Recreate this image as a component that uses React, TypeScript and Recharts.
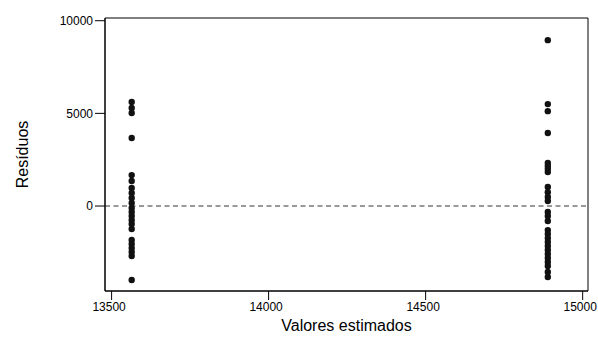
import React from "react";
import {
  ScatterChart,
  Scatter,
  XAxis,
  YAxis,
  ReferenceLine,
  ReferenceArea,
} from "recharts";

// fitted value of each group
const fittedLow = 13564;
const fittedHigh = 14889;

// residuals
const residualsLow = [
  5610, 5290, 5020, 3670, 1670, 1350, 970, 700, 430, 160, -110, -320, -540,
  -760, -970, -1240, -1830, -2050, -2270, -2480, -2700, -3990,
];
const residualsHigh = [
  8950, 5500, 5120, 3940, 2320, 2160, 2000, 1830, 1030, 750, 490, 270, -320,
  -540, -810, -1300, -1510, -1730, -1940, -2160, -2370, -2590, -2800, -3020,
  -3240, -3560, -3830,
];

const xTicks = [13500, 14000, 14500, 15000];
const yTicks = [0, 5000, 10000];

const xDomain: [number, number] = [13479, 15017];
const yDomain: [number, number] = [-4585, 10146];

const data = [
  ...residualsLow.map((r) => ({ x: fittedLow, y: r })),
  ...residualsHigh.map((r) => ({ x: fittedHigh, y: r })),
];

const font = "'Liberation Sans', Arial, sans-serif";

const Dot = (props: any) => (
  <circle cx={props.cx} cy={props.cy} r={3.2} fill="#111" />
);

export default function App() {
  return (
    <div style={{ position: "absolute", left: 0, top: 0, background: "#fff" }}>
      <ScatterChart
        width={598}
        height={338}
        margin={{ top: 18, right: 10, bottom: 7, left: 45 }}
      >
        <XAxis
          type="number"
          dataKey="x"
          domain={xDomain}
          ticks={xTicks}
          allowDataOverflow
          height={40}
          tickSize={9}
          stroke="#000"
          tickLine={{ stroke: "#000" }}
          tick={{ fontSize: 12, fill: "#000", fontFamily: font, dx: -2.5 }}
          label={{
            value: "Valores estimados",
            position: "insideBottom",
            offset: 0,
            style: { fontSize: 16, fill: "#000", fontFamily: font },
          }}
        />
        <YAxis
          type="number"
          dataKey="y"
          domain={yDomain}
          ticks={yTicks}
          allowDataOverflow
          width={60}
          tickSize={10}
          stroke="#000"
          tickLine={{ stroke: "#000" }}
          tick={{ fontSize: 12, fill: "#000", fontFamily: font }}
          label={{
            value: "Resíduos",
            angle: -90,
            position: "insideLeft",
            offset: -23,
            style: {
              fontSize: 16,
              fill: "#000",
              fontFamily: font,
              textAnchor: "middle",
            },
          }}
        />
        <ReferenceArea
          x1={xDomain[0]}
          x2={xDomain[1]}
          y1={yDomain[0]}
          y2={yDomain[1]}
          fill="none"
          stroke="#000"
          strokeWidth={1}
          ifOverflow="extendDomain"
        />
        <ReferenceLine
          y={0}
          stroke="#333"
          strokeDasharray="5 3.5"
          strokeWidth={1}
        />
        <Scatter data={data} shape={<Dot />} isAnimationActive={false} />
      </ScatterChart>
    </div>
  );
}
